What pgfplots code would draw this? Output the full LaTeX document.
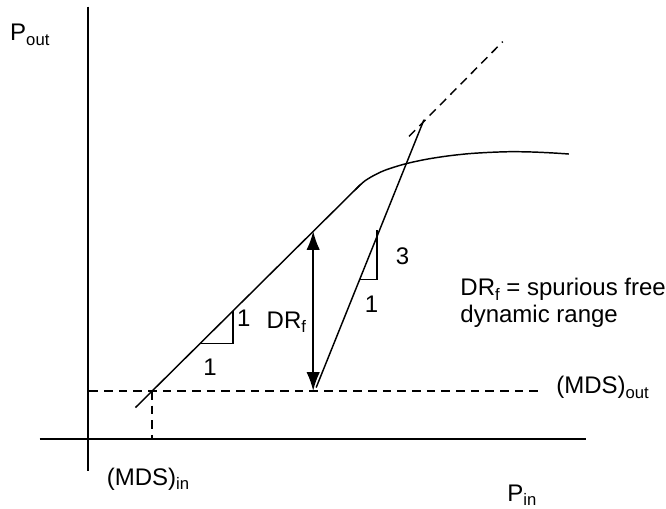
\documentclass[border=0pt]{standalone}
\usepackage{pgfplots}
\pgfplotsset{compat=1.18}
\usepackage{fontspec}
\setmainfont{Liberation Sans}
\usetikzlibrary{arrows.meta}
\newcommand\sub[1]{\raisebox{-0.35ex}{\fontsize{12.5}{13}\selectfont #1}}
\begin{document}
\begin{tikzpicture}
\begin{axis}[
  scale only axis, width=499.5pt, height=381.75pt,
  xmin=0, xmax=1563, ymin=0, ymax=1530,
  axis lines=none, clip=false,
  every axis plot/.append style={black, solid, line width=1.1pt, no markers},
  nodes={font=\fontsize{18}{21}\selectfont, inner sep=0pt},
]
% axes
\addplot[line width=1.5pt] coordinates {(207,1510) (207,115)};
\addplot[line width=1.5pt] coordinates {(93,210) (1375,210)};
% MDS dashed lines
\addplot[dash pattern=on 6.5pt off 4.5pt] coordinates {(210,355) (1265,355)};
\addplot[dash pattern=on 6.5pt off 4.5pt] coordinates {(357,355) (357,210)};
% fundamental
\addplot[black] coordinates {(318,305) (845,974)};
\addplot[smooth] coordinates {(835,961) (855,985) (878,1003) (905,1019) (950,1037) (1000,1051) (1050,1061) (1100,1068) (1150,1072) (1200,1074) (1250,1073) (1300,1070) (1335,1067)};
% extension dashed
\addplot[dash pattern=on 6.5pt off 4.5pt] coordinates {(960,1120) (1180,1405)};
% third order
\addplot[black] coordinates {(742,365) (995,1170)};
% DR arrow
\addplot[{Latex[length=14pt,width=10pt]}-{Latex[length=14pt,width=10pt]}] coordinates {(735,355) (735,835)};
% triangles
\addplot[black] coordinates {(470,498) (547,498) (547,595)};
\addplot[black] coordinates {(845,690) (885,690) (885,840)};
% labels
\node at (axis cs:572,572) {1};
\node at (axis cs:493,425) {1};
\node at (axis cs:672,562) {DR\sub{f}};
\node at (axis cs:945,760) {3};
\node at (axis cs:872,615) {1};
\node[anchor=west] at (axis cs:1080,660) {DR\sub{f} = spurious free};
\node[anchor=west] at (axis cs:1080,580) {dynamic range};
\node[anchor=west] at (axis cs:1305,365) {(MDS)\sub{out}};
\node[anchor=west] at (axis cs:250,90) {(MDS)\sub{in}};
\node at (axis cs:1225,42) {P\sub{in}};
\node at (axis cs:70,1425) {P\sub{out}};
\end{axis}
\pgfresetboundingbox
\useasboundingbox (current axis.south west) rectangle (current axis.north east);
\end{tikzpicture}
\end{document}
